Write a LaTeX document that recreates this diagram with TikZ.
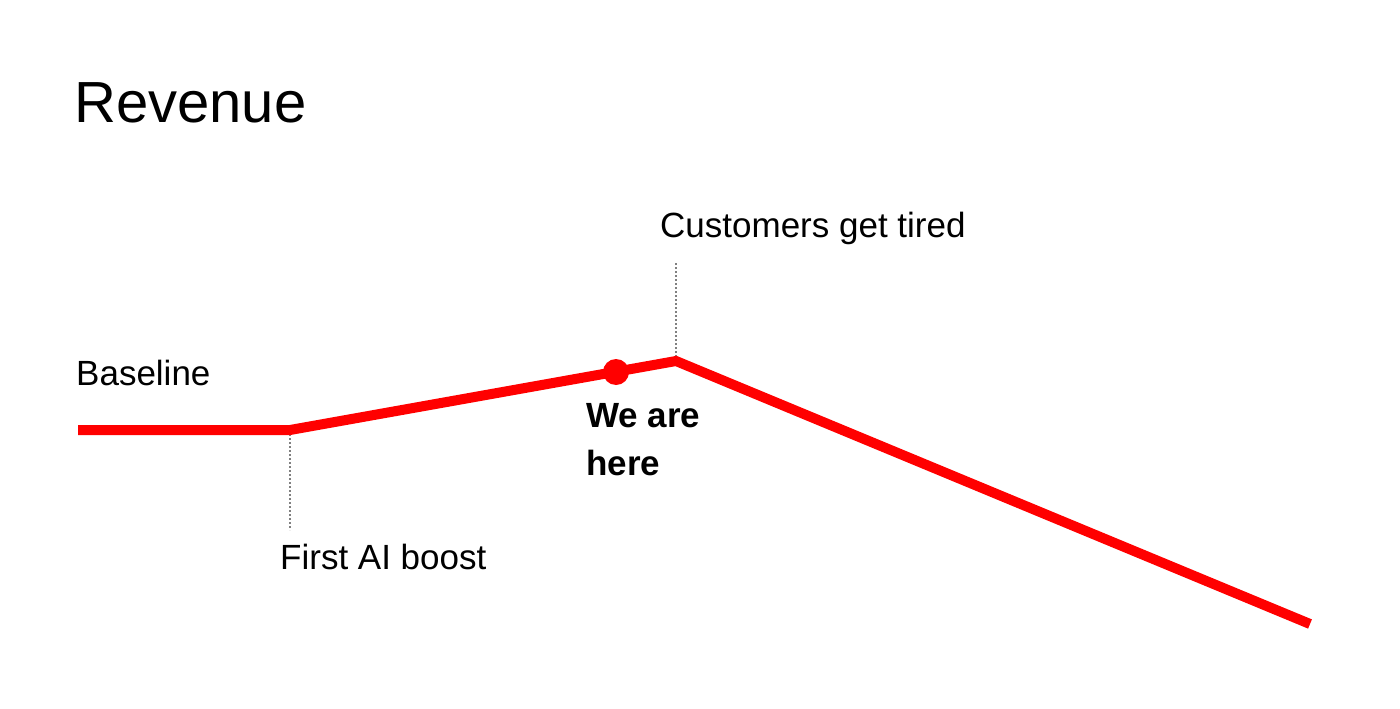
\documentclass[tikz,border=0pt]{standalone}
\usepackage{fontspec}
\setmainfont{Liberation Sans}
\begin{document}
\begin{tikzpicture}[x=1pt,y=-1pt,
  lbl/.style={anchor=west,inner sep=0pt,font=\fontsize{35}{44}\selectfont},
  curve/.style={red,line width=10pt},
  guide/.style={gray,line width=2pt,dash pattern=on 2pt off 2pt}]
\useasboundingbox (0,0) rectangle (1400,709);
\node[anchor=base west,inner sep=0pt,font=\fontsize{58}{70}\selectfont] (title) at (74,122) {Revenue};
\coordinate (p0) at (78,430);
\coordinate (p1) at (290,430);
\coordinate (p2) at (676,361);
\coordinate (p3) at (1310,624);
\coordinate (g1) at (290,530);
\coordinate (g2) at (676,262);
\draw[guide] (p1) -- (g1);
\draw[guide] (p2) -- (g2);
\draw[curve] (p0) -- (p1) -- (p2) -- (p3);
\fill[red] (616,372) circle (13) coordinate (dot);
\node[lbl] (base) at (76,373) {Baseline};
\node[lbl] (tired) at (660,228) {Customers get tired};
\node[lbl] (first) at (280,557) {First AI boost};
\node[lbl,font=\bfseries\fontsize{35}{48}\selectfont,align=left,anchor=north west] (here) at (586,403) {We are\\here};
\end{tikzpicture}
\end{document}
